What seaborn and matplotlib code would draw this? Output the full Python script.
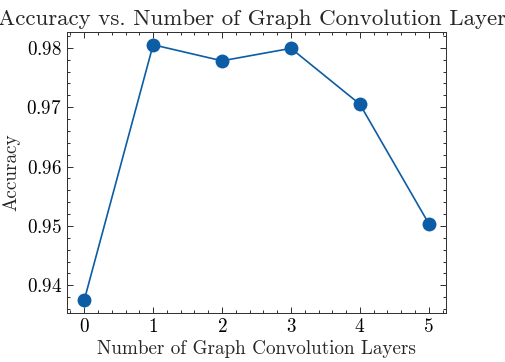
import matplotlib
matplotlib.use("Agg")
import matplotlib.pyplot as plt
import seaborn as sns
import pandas as pd
from matplotlib.ticker import AutoMinorLocator

layers = [0, 1, 2, 3, 4, 5]
accuracy = [0.9375, 0.9805, 0.9778, 0.9799, 0.9705, 0.9504]
title = "Accuracy vs. Number of Graph Convolution Layers"
xlabel = "Number of Graph Convolution Layers"
ylabel = "Accuracy"

sns.set_style("ticks")
s = 1.446
f = 1.19
plt.rcParams.update({
    "font.family": ["cmr10", "DejaVu Serif"],
    "mathtext.fontset": "cm",
    "axes.unicode_minus": False,
    "axes.formatter.use_mathtext": True,
    "axes.linewidth": 0.5 * s,
    "axes.edgecolor": "#333333",
    "xtick.direction": "in",
    "ytick.direction": "in",
    "xtick.top": True,
    "ytick.right": True,
    "xtick.major.size": 3 * s,
    "ytick.major.size": 3 * s,
    "xtick.minor.size": 1.5 * s,
    "ytick.minor.size": 1.5 * s,
    "xtick.major.width": 0.5 * s,
    "ytick.major.width": 0.5 * s,
    "xtick.minor.width": 0.5 * s,
    "ytick.minor.width": 0.5 * s,
    "xtick.minor.visible": True,
    "ytick.minor.visible": True,
    "xtick.color": "#333333",
    "ytick.color": "#333333",
    "xtick.labelcolor": "black",
    "ytick.labelcolor": "black",
    "font.size": 8 * s * f,
    "xtick.labelsize": 8 * s * f,
    "ytick.labelsize": 8 * s * f,
    "axes.labelsize": 8 * s * f,
    "axes.titlesize": 9.6 * s * f,
})

df = pd.DataFrame({"layers": layers, "accuracy": accuracy})

fig = plt.figure(figsize=(5.06, 3.62), dpi=100)
ax = fig.add_axes([0.1324, 0.1354, 0.8814 - 0.1324, 0.9116 - 0.1354])
sns.lineplot(data=df, x="layers", y="accuracy", marker="o", markersize=10,
             color="#0C5DA5", linewidth=1.2, markeredgewidth=0, ax=ax)
ax.set_title(title, pad=5)
ax.set_xlabel(xlabel, labelpad=3)
ax.set_ylabel(ylabel, labelpad=4)
ax.set_xticks(layers)
ax.set_yticks([0.94, 0.95, 0.96, 0.97, 0.98])
ax.xaxis.set_minor_locator(AutoMinorLocator(5))
ax.yaxis.set_minor_locator(AutoMinorLocator(5))
ax.margins(x=0.05, y=0.05)

fig.savefig("out.png", dpi=100)
